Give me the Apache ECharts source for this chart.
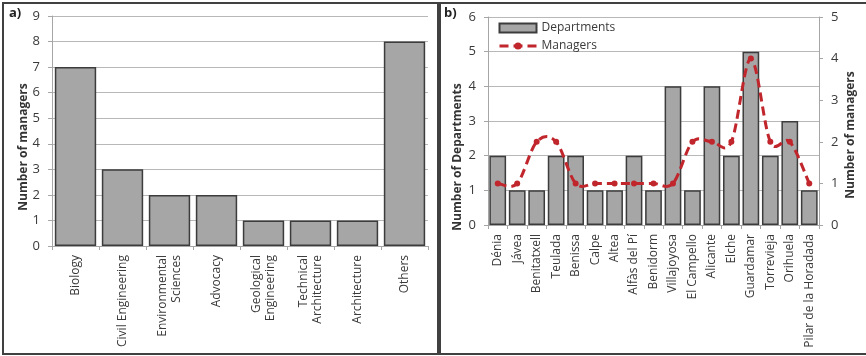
<!DOCTYPE html>
<html>
<head>
<meta charset="utf-8">
<script src="https://cdn.jsdelivr.net/npm/echarts@6/dist/echarts.min.js"></script>
<style>
  html, body { margin: 0; padding: 0; background: #fff; }
  #chart { width: 866px; height: 356px; }
</style>
</head>
<body>
<div id="chart"></div>
<script>
// Panel a) managers by degree
const degrees = ['Biology', 'Civil Engineering', 'Environmental\nSciences', 'Advocacy',
  'Geological\nEngineering', 'Technical\nArchitecture', 'Architecture', 'Others'];
const managersByDegree = [7, 3, 2, 2, 1, 1, 1, 8];

// Panel b) departments and managers by municipality
const towns = ['Dénia', 'Jávea', 'Benitatxell', 'Teulada', 'Benissa', 'Calpe', 'Altea',
  'Alfàs del Pí', 'Benidorm', 'Villajoyosa', 'El Campello', 'Alicante', 'Elche',
  'Guardamar', 'Torrevieja', 'Orihuela', 'Pilar de la Horadada'];
const departments = [2, 1, 1, 2, 2, 1, 1, 2, 1, 4, 1, 4, 2, 5, 2, 3, 1];
const managersByTown = [1, 1, 2, 2, 1, 1, 1, 1, 1, 1, 2, 2, 2, 4, 2, 2, 1];

const FONT = 'Open Sans';
const TXT = '#3a3a3a';
const GRID = '#b8b8b8';
const AXIS = '#a6a6a6';
const BAR = '#a6a6a6';
const BAR_EDGE = '#3c3c3c';
const RED = '#c0262c';
const DASH = [9, 5];

function valueAxis(gridIndex, max, showSplit) {
  return {
    type: 'value', gridIndex, min: 0, max, interval: 1,
    axisLine: { show: true, lineStyle: { color: AXIS, width: 1 } },
    axisTick: { show: true, length: 4, lineStyle: { color: AXIS } },
    axisLabel: { fontFamily: FONT, fontSize: 13, color: TXT, margin: 12 },
    splitLine: { show: showSplit, lineStyle: { color: GRID, width: 1 } }
  };
}

function catAxis(gridIndex, data) {
  return {
    type: 'category', gridIndex, data,
    axisLine: { lineStyle: { color: AXIS, width: 1 } },
    axisTick: { show: true, length: 4, lineStyle: { color: AXIS } },
    axisLabel: { rotate: 90, interval: 0, fontFamily: FONT, fontSize: 12, color: TXT,
      margin: 9, lineHeight: 14 }
  };
}

// Vertical axis title placed by its centre point
function axisTitle(text, x, y) {
  return {
    type: 'text', x, y, rotation: Math.PI / 2, silent: true,
    style: { text, fontFamily: FONT, fontSize: 12, fontWeight: 'bold', fill: '#333',
      align: 'center', verticalAlign: 'middle' }
  };
}

// Smooth curve through the managers points: cubic Bezier segments whose
// control points follow the neighbouring points (cardinal spline, 1/6 tension)
function renderManagersCurve(params, api) {
  if (params.dataIndex !== 0) return null;
  const pts = managersByTown.map((v, i) => api.coord([i, v]));
  const n = pts.length;
  let d = 'M' + pts[0][0] + ' ' + pts[0][1];
  for (let i = 0; i < n - 1; i++) {
    const p0 = pts[Math.max(i - 1, 0)];
    const p1 = pts[i];
    const p2 = pts[i + 1];
    const p3 = pts[Math.min(i + 2, n - 1)];
    const c1x = p1[0] + (p2[0] - p0[0]) / 6;
    const c1y = p1[1] + (p2[1] - p0[1]) / 6;
    const c2x = p2[0] - (p3[0] - p1[0]) / 6;
    const c2y = p2[1] - (p3[1] - p1[1]) / 6;
    d += ' C' + c1x + ' ' + c1y + ' ' + c2x + ' ' + c2y + ' ' + p2[0] + ' ' + p2[1];
  }
  return {
    type: 'path', silent: true,
    shape: { pathData: d },
    style: { fill: 'none', stroke: RED, lineWidth: 3, lineDash: DASH }
  };
}

const chart = echarts.init(document.getElementById('chart'), null, { renderer: 'canvas' });

chart.setOption({
  animation: false,
  backgroundColor: '#fff',
  grid: [
    { left: 52, right: 438, top: 16, bottom: 110 },
    { left: 488, right: 47, top: 17, bottom: 131 }
  ],
  xAxis: [catAxis(0, degrees), catAxis(1, towns)],
  yAxis: [
    valueAxis(0, 9, true),
    valueAxis(1, 6, true),
    Object.assign(valueAxis(1, 5, false), { position: 'right' })
  ],
  legend: {
    left: 493, top: 17, orient: 'vertical', itemGap: 6,
    itemWidth: 37, itemHeight: 9,
    textStyle: { fontFamily: FONT, fontSize: 12, color: TXT },
    data: [
      { name: 'Departments', icon: 'rect' },
      { name: 'Managers', lineStyle: { color: RED, width: 3, type: DASH, opacity: 1 } }
    ]
  },
  series: [
    {
      type: 'bar', xAxisIndex: 0, yAxisIndex: 0, data: managersByDegree,
      barCategoryGap: '12%',
      itemStyle: { color: BAR, borderColor: BAR_EDGE, borderWidth: 1.5 }
    },
    {
      name: 'Departments', type: 'bar', xAxisIndex: 1, yAxisIndex: 1, data: departments,
      barCategoryGap: '14%',
      itemStyle: { color: BAR, borderColor: BAR_EDGE, borderWidth: 1.5 }
    },
    {
      type: 'custom', xAxisIndex: 1, yAxisIndex: 2,
      data: managersByTown.map((v, i) => [i, v]),
      encode: { x: 0, y: 1 },
      renderItem: renderManagersCurve, z: 3
    },
    {
      name: 'Managers', type: 'line', xAxisIndex: 1, yAxisIndex: 2, data: managersByTown,
      symbol: 'circle', symbolSize: 6, z: 4,
      lineStyle: { color: RED, width: 3, type: DASH, opacity: 0 },
      itemStyle: { color: RED }
    }
  ],
  graphic: [
    { type: 'rect', silent: true, shape: { x: 3, y: 3, width: 435, height: 351 },
      style: { fill: null, stroke: '#404040', lineWidth: 2 } },
    { type: 'rect', silent: true, shape: { x: 440, y: 3, width: 440, height: 351 },
      style: { fill: null, stroke: '#404040', lineWidth: 2 } },
    { type: 'text', left: 9, top: 7,
      style: { text: 'a)', fontFamily: FONT, fontSize: 13, fontWeight: 'bold', fill: '#222' } },
    { type: 'text', left: 444, top: 7,
      style: { text: 'b)', fontFamily: FONT, fontSize: 13, fontWeight: 'bold', fill: '#222' } },
    axisTitle('Number of managers', 24, 147),
    axisTitle('Number of Departments', 458, 157),
    axisTitle('Number of managers', 851, 135)
  ]
});
</script>
</body>
</html>
